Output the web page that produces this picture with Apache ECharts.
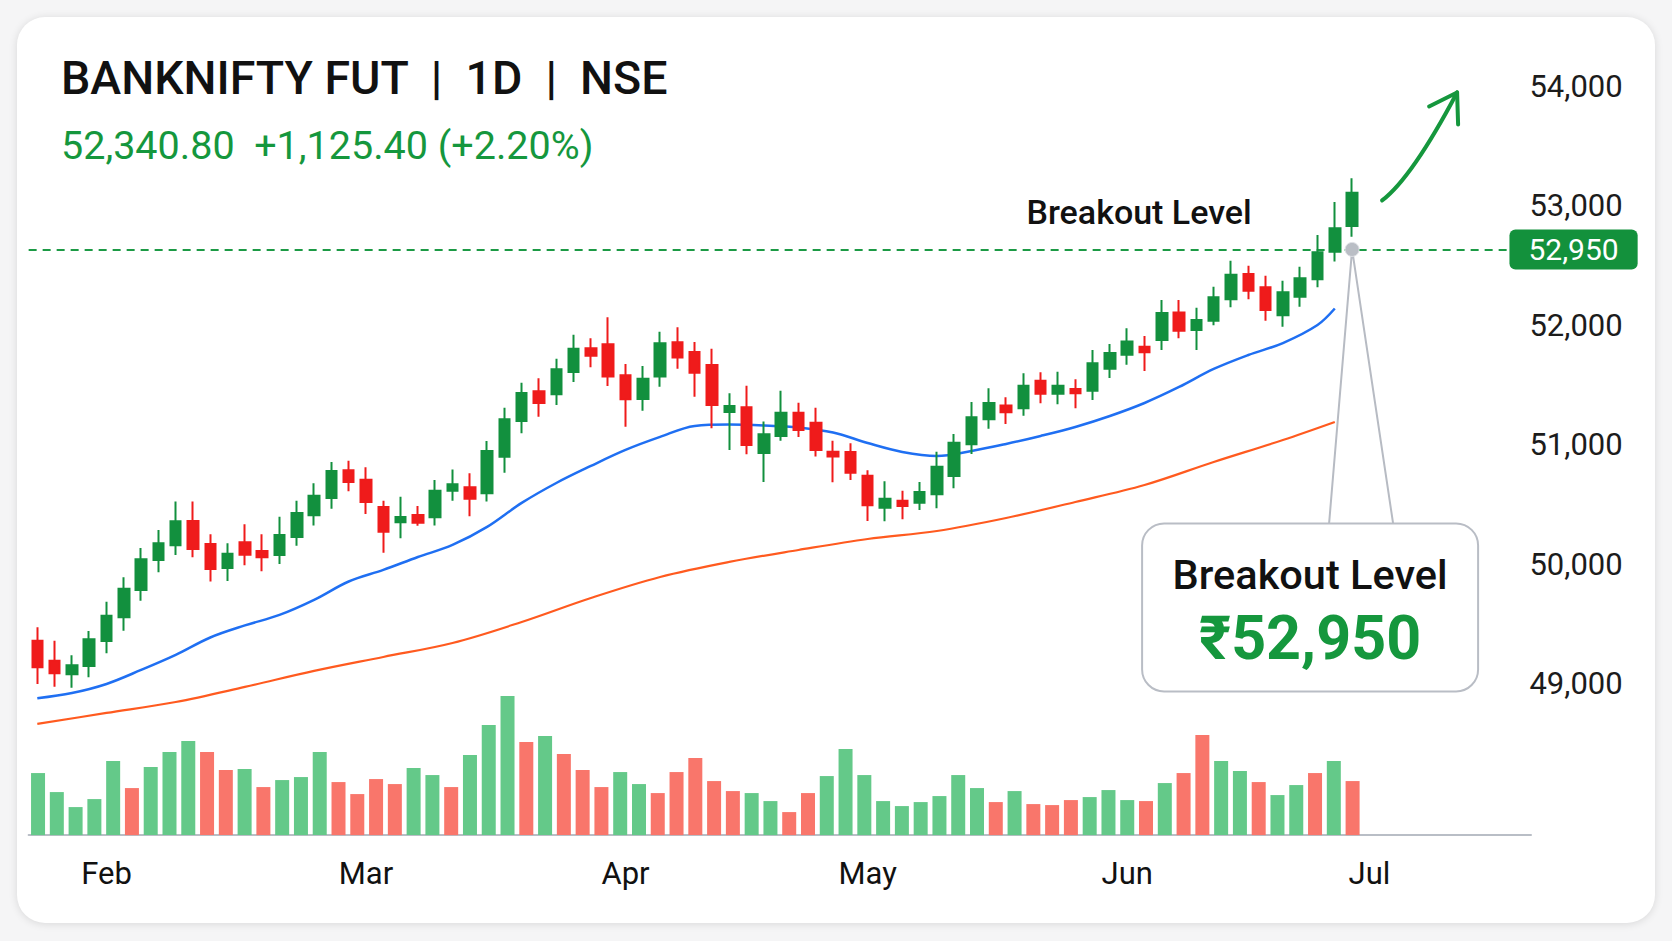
<!DOCTYPE html>
<html lang="en">
<head>
<meta charset="UTF-8">
<title>BANKNIFTY FUT | 1D | NSE</title>
<script src="https://cdn.jsdelivr.net/npm/echarts@6/dist/echarts.min.js"></script>
<style>
  html, body { margin: 0; padding: 0; background: #f5f5f6; }
  #card { position: absolute; left: 17px; top: 17px; width: 1638px; height: 906px; background: #fff; border-radius: 28px; box-shadow: 0 1px 9px rgba(0,0,0,0.12); }
  #main { position: absolute; left: 0; top: 0; width: 1672px; height: 941px; }
</style>
</head>
<body>
<div id="card"></div>
<div id="main"></div>
<script>
// daily candles, [open, close, low, high]
const ohlc = [
  [49358, 49136, 48996, 49470], [49191, 49085, 48973, 49358], [49077, 49152, 48965, 49236], [49147, 49370, 49052, 49440],
  [49356, 49568, 49253, 49685], [49554, 49794, 49442, 49889], [49783, 50040, 49693, 50135], [50034, 50174, 49931, 50286],
  [50157, 50358, 50076, 50523], [50361, 50126, 50057, 50523], [50168, 49959, 49853, 50250], [49967, 50087, 49858, 50174],
  [50183, 50079, 49990, 50333], [50110, 50057, 49940, 50250], [50076, 50244, 50001, 50397], [50227, 50428, 50154, 50531],
  [50409, 50573, 50322, 50677], [50554, 50780, 50464, 50855], [50786, 50688, 50610, 50866], [50707, 50520, 50420, 50811],
  [50478, 50271, 50095, 50531], [50350, 50394, 50216, 50564], [50411, 50347, 50320, 50486], [50392, 50615, 50322, 50704],
  [50615, 50668, 50531, 50791], [50643, 50548, 50400, 50760], [50593, 50947, 50523, 51031], [50899, 51213, 50765, 51310],
  [51198, 51433, 51095, 51519], [51447, 51349, 51234, 51556], [51422, 51631, 51332, 51720], [51609, 51804, 51525, 51921],
  [51807, 51745, 51648, 51891], [51841, 51570, 51491, 52067], [51581, 51380, 51151, 51676], [51383, 51553, 51285, 51659],
  [51570, 51849, 51486, 51946], [51858, 51729, 51636, 51983], [51776, 51603, 51402, 51860], [51667, 51332, 51137, 51804],
  [51274, 51324, 50955, 51430], [51313, 50997, 50920, 51494], [50930, 51087, 50688, 51193], [51073, 51268, 51033, 51452],
  [51268, 51123, 51065, 51350], [51184, 50956, 50900, 51310], [50941, 50900, 50685, 51033], [50939, 50765, 50704, 51012],
  [50740, 50492, 50361, 50786], [50472, 50548, 50358, 50693], [50531, 50487, 50375, 50615], [50514, 50604, 50453, 50688],
  [50585, 50816, 50467, 50941], [50738, 51017, 50635, 51090], [51003, 51229, 50922, 51358], [51213, 51349, 51134, 51472],
  [51327, 51271, 51173, 51397], [51305, 51494, 51243, 51598], [51536, 51427, 51347, 51606], [51427, 51494, 51338, 51611],
  [51466, 51430, 51305, 51548], [51452, 51682, 51374, 51793], [51636, 51768, 51558, 51843], [51754, 51863, 51670, 51975],
  [51821, 51774, 51617, 51910], [51877, 52103, 51793, 52212], [52106, 51955, 51891, 52212], [51960, 52044, 51793, 52147],
  [52038, 52234, 52000, 52323], [52218, 52424, 52151, 52541], [52430, 52290, 52218, 52499], [52318, 52128, 52038, 52415],
  [52084, 52276, 51988, 52373], [52239, 52394, 52156, 52491], [52385, 52611, 52318, 52756], [52616, 52812, 52533, 53033],
  [52832, 53110, 52742, 53231]
];

// moving averages at these candle indexes
const fastIdx = [0, 2, 4, 6, 8, 10, 12, 14, 16, 18, 20, 22, 24, 26, 28, 30, 32, 34, 36, 38, 40, 42, 44, 46, 48, 50, 52, 54, 56, 58, 60, 62, 64, 66, 68, 70, 72, 74, 75];
const fastVal = [48876, 48920, 48996, 49113, 49239, 49385, 49486, 49574, 49700, 49854, 49951, 50059, 50160, 50311, 50512, 50679, 50822, 50956, 51065, 51157, 51169, 51161, 51144, 51102, 51014, 50939, 50905, 50947, 51006, 51073, 51148, 51240, 51349, 51483, 51634, 51751, 51851, 52002, 52140];
const slowIdx = [0, 4, 8, 12, 16, 20, 24, 28, 32, 36, 40, 44, 48, 52, 56, 60, 64, 68, 72, 75];
const slowVal = [48661, 48753, 48845, 48971, 49105, 49222, 49339, 49515, 49716, 49892, 50018, 50118, 50210, 50277, 50386, 50520, 50662, 50855, 51039, 51190];

// volume (lakh contracts) and whether the bar is drawn green
const volume = [6.2, 4.3, 2.8, 3.6, 7.4, 4.7, 6.8, 8.3, 9.4, 8.3, 6.5, 6.6, 4.8, 5.5, 5.8, 8.3, 5.3, 4.1, 5.6, 5.1,
  6.7, 6.0, 4.8, 8.0, 11.0, 13.9, 9.3, 9.9, 8.1, 6.5, 4.8, 6.3, 5.1, 4.2, 6.3, 7.7, 5.4, 4.4, 4.2, 3.4, 2.3, 4.2,
  5.9, 8.6, 6.0, 3.4, 2.9, 3.3, 3.9, 6.0, 4.7, 3.3, 4.4, 3.1, 3.0, 3.5, 3.8, 4.5, 3.5, 3.4, 5.2, 6.2,
  10.0, 7.4, 6.4, 5.3, 4.0, 5.0, 6.2, 7.4, 5.4];
const volUp = [1, 1, 1, 1, 1, 0, 1, 1, 1, 0, 0, 1, 0, 1, 1, 1, 0, 0, 0, 0, 1, 1, 0, 1, 1, 1, 0, 1, 0, 0,
  0, 1, 1, 0, 0, 0, 0, 0, 1, 1, 0, 0, 1, 1, 1, 1, 1, 1, 1, 1, 1, 0, 1, 0, 0, 0, 1, 1, 1, 0, 1, 0,
  0, 1, 1, 0, 1, 1, 0, 1, 0];

const monthLabels = ['Feb', 'Mar', 'Apr', 'May', 'Jun', 'Jul'];
const monthAt = [4, 19, 34, 48, 63, 77];
const priceScale = [49000, 50000, 51000, 52000, 53000, 54000];

const breakoutLevel = 52950;
const breakoutDrawnAt = 52635; // where the reference's price scale puts the breakout line
const lastPrice = '52,340.80';
const change = '+1,125.40 (+2.20%)';

const candleSlots = 86;
const volSlots = 80;

const fmt = v => String(v).replace(/\B(?=(\d{3})+(?!\d))/g, ',');
const font = 'Roboto, "Noto Sans", sans-serif';
const green = '#15973d';
const up = '#12903e', down = '#ef1b1b';

const chart = echarts.init(document.getElementById('main'), null, { renderer: 'svg' });

const option = {
  animation: false,
  backgroundColor: 'transparent',
  title: {
    text: 'BANKNIFTY FUT  |  1D  |  NSE',
    subtext: lastPrice + '  ' + change,
    left: 61, top: 51, padding: 0, itemGap: 18,
    textStyle: { fontFamily: font, fontSize: 46.5, fontWeight: 500, color: '#111', lineHeight: 53 },
    subtextStyle: { fontFamily: font, fontSize: 39.5, color: green, lineHeight: 46 }
  },
  grid: [
    { left: 28.65, right: 155.55, top: 38.7, bottom: 105.9, outerBoundsMode: 'none' },
    { left: 28.65, right: 141, top: 685, bottom: 105.9, outerBoundsMode: 'none' }
  ],
  xAxis: [
    {
      type: 'category', gridIndex: 0,
      data: Array.from({ length: candleSlots }, (_, i) => i),
      axisLine: { show: false }, axisTick: { show: false }, splitLine: { show: false },
      axisLabel: {
        interval: 0, margin: 23, fontFamily: font, fontSize: 31, color: '#111', lineHeight: 31,
        formatter: (v, i) => { const k = monthAt.indexOf(i); return k >= 0 ? monthLabels[k] : ''; }
      }
    },
    {
      type: 'category', gridIndex: 1,
      data: Array.from({ length: volSlots }, (_, i) => i),
      axisLine: { lineStyle: { color: '#b9bec6', width: 2 } },
      axisTick: { show: false }, axisLabel: { show: false }, splitLine: { show: false }
    }
  ],
  yAxis: [
    {
      type: 'value', gridIndex: 0, position: 'right',
      min: 47730, max: 54400, splitNumber: 6, minInterval: 1000, maxInterval: 1000,
      axisLine: { show: false }, axisTick: { show: false }, splitLine: { show: false },
      axisLabel: {
        margin: 13, fontFamily: font, fontSize: 31, color: '#1c1c1c',
        formatter: v => priceScale.includes(v) ? fmt(v) : ''
      }
    },
    { type: 'value', gridIndex: 1, min: 0, max: 15, show: false }
  ],
  series: [
    {
      type: 'bar', xAxisIndex: 1, yAxisIndex: 1, barWidth: 14,
      data: volume.map((v, i) => ({ value: v, itemStyle: { color: volUp[i] ? '#64c989' : '#f9766b' } }))
    },
    {
      type: 'line', smooth: 0.35, symbol: 'none', z: 3,
      data: fastIdx.map((x, i) => [x, fastVal[i]]),
      lineStyle: { color: '#1f6ff2', width: 2.5 }
    },
    {
      type: 'line', smooth: 0.35, symbol: 'none', z: 3,
      data: slowIdx.map((x, i) => [x, slowVal[i]]),
      lineStyle: { color: '#ff5a1f', width: 2.2 }
    },
    {
      type: 'candlestick', z: 4, barWidth: 11,
      data: ohlc,
      itemStyle: { color: up, color0: down, borderColor: up, borderColor0: down, borderWidth: 2 },
      markLine: {
        silent: true, symbol: ['none', 'none'], z: 2,
        lineStyle: { color: '#1c9a45', type: [8, 6], width: 2 },
        label: {
          position: 'end', distance: -7, formatter: fmt(breakoutLevel),
          color: '#fff', backgroundColor: '#13913c', borderRadius: 6,
          fontFamily: font, fontSize: 30, lineHeight: 32, padding: [5, 19, 3, 19]
        },
        data: [{ yAxis: breakoutDrawnAt }]
      },
      markPoint: {
        silent: true,
        data: [{
          coord: [ohlc.length - 1, breakoutDrawnAt], symbol: 'circle', symbolSize: 14,
          itemStyle: { color: '#babec5', borderColor: '#dfe1e5', borderWidth: 1 },
          label: { show: false }
        }]
      }
    }
  ]
};

chart.setOption(option);

// callout, label and arrow hang off the breakout point
const [px, py] = chart.convertToPixel({ gridIndex: 0 }, [ohlc.length - 1, breakoutDrawnAt]);
chart.setOption({
  graphic: [
    {
      type: 'polyline', z: 1,
      shape: { points: [[px - 23, py + 274], [px, py], [px + 41, py + 274]] },
      style: { stroke: '#b7bbc3', lineWidth: 2, fill: null }
    },
    {
      type: 'rect', z: 1,
      shape: { x: px - 210, y: py + 274, width: 336, height: 168, r: 22 },
      style: { fill: '#fff', stroke: '#b9bdc5', lineWidth: 2 }
    },
    {
      type: 'text', z: 2,
      style: { x: px - 42, y: py + 325, text: 'Breakout Level', align: 'center', verticalAlign: 'middle',
        fontFamily: font, fontSize: 41.5, fontWeight: 500, fill: '#111' }
    },
    {
      type: 'text', z: 2,
      style: { x: px - 42, y: py + 389, text: '₹' + fmt(breakoutLevel), align: 'center', verticalAlign: 'middle',
        fontFamily: font, fontSize: 61, fontWeight: 'bold', fill: green }
    },
    {
      type: 'text', z: 2,
      style: { x: px - 213, y: py - 37, text: 'Breakout Level', align: 'center', verticalAlign: 'middle',
        fontFamily: font, fontSize: 34, fontWeight: 500, fill: '#111' }
    },
    {
      type: 'bezierCurve', z: 2,
      shape: { x1: px + 30, y1: py - 49, cpx1: px + 60, cpy1: py - 72, x2: px + 105, y2: py - 157 },
      style: { stroke: green, lineWidth: 4, fill: null, lineCap: 'round' }
    },
    {
      type: 'polyline', z: 2,
      shape: { points: [[px + 77, py - 143], [px + 105, py - 157], [px + 106, py - 125]] },
      style: { stroke: green, lineWidth: 4, fill: null, lineCap: 'round', lineJoin: 'round' }
    }
  ]
});
</script>
</body>
</html>
